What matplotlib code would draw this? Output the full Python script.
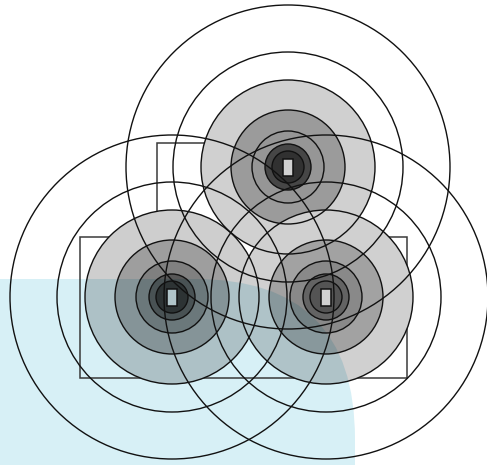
import matplotlib
matplotlib.use("Agg")
import matplotlib.pyplot as plt
from matplotlib.patches import Circle, Rectangle, FancyBboxPatch

# access points (pixel-like coordinates, y grows downwards)
ap_x = [288, 172, 326]
ap_y = [167, 297, 297]

# coverage rings, filled ones first then the two outer outlines
fill_radii = [87, 57, 36, 23, 16]
outline_radii = [162, 115]

# grey level reached inside each filled ring, one list per access point
ring_grey = [
    [208, 155, 150, 70, 50],
    [206, 158, 128, 88, 55],
    [208, 162, 138, 100, 85],
]

# room outlines: x0, y0, width, height
rooms_x = [157, 80]
rooms_y = [143, 237]
rooms_w = [143, 327]
rooms_h = [94, 141]

# light blue zone (bottom left)
zone_x, zone_y = -200, 279
zone_w, zone_h = 555, 420
zone_round = 160

ap_w, ap_h = 10, 17
blue = "#d7f0f6"


def make_zone():
    return FancyBboxPatch((zone_x, zone_y), zone_w, zone_h,
                          boxstyle=f"round,pad=0,rounding_size={zone_round}",
                          facecolor=blue, edgecolor="none", linewidth=0)


fig = plt.figure(figsize=(4.87, 4.65), dpi=100)
ax = fig.add_axes([0, 0, 1, 1])
ax.set_xlim(0, 487)
ax.set_ylim(465, 0)
ax.set_aspect("equal")
ax.axis("off")

zone = make_zone()
zone.set_zorder(0)
ax.add_patch(zone)

for x0, y0, w, h in zip(rooms_x, rooms_y, rooms_w, rooms_h):
    ax.add_patch(Rectangle((x0, y0), w, h, facecolor="none",
                           edgecolor="#3a3a3a", linewidth=1.1, zorder=1))

for i, (cx, cy) in enumerate(zip(ap_x, ap_y)):
    z = 2 + i
    base = Circle((cx, cy), fill_radii[0], facecolor="white",
                  edgecolor="none", zorder=z)
    ax.add_patch(base)
    zb = make_zone()
    zb.set_zorder(z + 0.05)
    ax.add_patch(zb)
    zb.set_clip_path(base)

    prev = 255.0
    for k, r in enumerate(fill_radii):
        g = ring_grey[i][k]
        a = 1 - g / prev
        prev = g
        if a > 0:
            ax.add_patch(Circle((cx, cy), r, facecolor="black", alpha=a,
                                edgecolor="none", zorder=z + 0.1 + 0.05 * k))

    rx, ry = cx - ap_w / 2, cy - ap_h / 2
    hole = Rectangle((rx, ry), ap_w, ap_h, facecolor="white",
                     edgecolor="none", zorder=z + 0.5)
    ax.add_patch(hole)
    zr = make_zone()
    zr.set_zorder(z + 0.6)
    ax.add_patch(zr)
    zr.set_clip_path(hole)
    ax.add_patch(Rectangle((rx, ry), ap_w, ap_h, facecolor=(0, 0, 0, 0.18),
                           edgecolor="#111111", linewidth=1.1, zorder=z + 0.7))

for cx, cy in zip(ap_x, ap_y):
    for r in fill_radii + outline_radii:
        ax.add_patch(Circle((cx, cy), r, facecolor="none",
                            edgecolor="#111111", linewidth=1.0, zorder=20))

fig.savefig("out.png", dpi=100)
